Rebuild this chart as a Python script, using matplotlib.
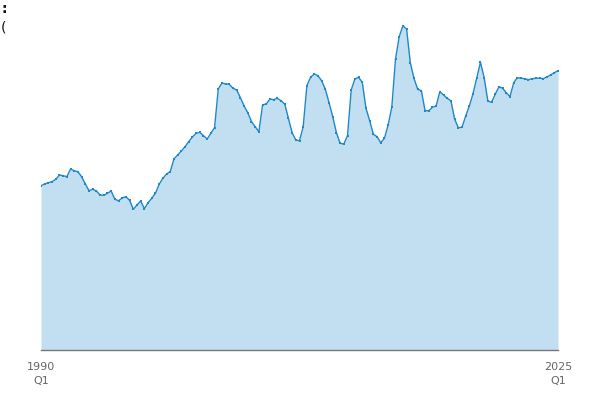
import numpy as np
import matplotlib
matplotlib.use('Agg')
from matplotlib import pyplot as plt

# quarterly series, 1990 Q1 .. 2025 Q1
values = [
    164.3, 166.0, 167.3, 168.3, 170.7, 175.0, 174.3, 173.3, 181.0, 179.3,
    178.3, 173.3, 166.0, 159.3, 160.7, 159.0, 155.0, 154.7, 156.7, 159.0,
    150.7, 149.3, 152.0, 153.3, 149.7, 140.7, 145.0, 149.0, 141.3, 147.3,
    151.7, 156.7, 165.7, 171.7, 176.0, 178.3, 191.0, 195.0, 199.0, 203.3,
    208.3, 213.0, 216.7, 217.7, 214.3, 211.0, 216.7, 222.3, 261.0, 267.0,
    266.0, 265.7, 261.7, 260.0, 252.3, 244.0, 237.3, 228.3, 223.3, 218.3,
    245.0, 246.0, 251.0, 250.3, 251.7, 249.3, 246.0, 231.7, 217.3, 210.0,
    209.3, 223.3, 264.3, 272.7, 276.0, 274.3, 269.3, 260.7, 247.3, 233.3,
    217.3, 206.7, 206.0, 214.3, 260.0, 271.0, 272.7, 267.7, 241.7, 229.3,
    215.7, 213.3, 207.3, 211.7, 225.0, 243.0, 291.0, 313.3, 324.3, 321.0,
    287.3, 271.7, 260.7, 259.3, 239.3, 239.3, 242.7, 244.0, 258.3, 255.0,
    251.7, 249.3, 231.0, 222.3, 222.7, 234.0, 244.0, 256.5, 272.3, 287.7,
    272.5, 249.0, 247.7, 255.7, 263.3, 261.7, 257.3, 253.3, 267.3, 272.3,
    271.7, 271.3, 270.3, 271.3, 271.7, 272.0, 271.3, 273.0, 275.0, 277.3,
    279.3,
]
tick_labels = ['1990\nQ1', '2025\nQ1']

x = np.arange(len(values))
line_color = '#1f88c8'
fill_color = '#c1dff1'
text_color = '#666666'

fig = plt.figure(figsize=(6, 4), dpi=100)
ax = fig.add_axes([41 / 600, 50 / 400, 517 / 600, 330 / 400])

ax.fill_between(x, values, 0, color=fill_color, linewidth=0)
ax.plot(x, values, color=line_color, linewidth=1.0,
        marker='s', markersize=1.8, markeredgewidth=0)

ax.set_xlim(0, len(values) - 1)
ax.set_ylim(0, 330)

for side in ['top', 'right', 'left']:
    ax.spines[side].set_visible(False)
ax.spines['bottom'].set_color('#777777')
ax.spines['bottom'].set_linewidth(1.0)

ax.set_yticks([])
ax.set_xticks([0, len(values) - 1])
ax.set_xticklabels(tick_labels, color=text_color, fontsize=8, linespacing=1.4)
ax.tick_params(axis='x', length=0, pad=9)

# cut-off title fragments at the top-left
fig.text(0.002, 0.995, ':', fontsize=10, color='#111111', va='top', ha='left',
         fontweight='bold')
fig.text(0.002, 0.948, '(', fontsize=10, color='#111111', va='top', ha='left')

fig.savefig('out.png', dpi=100)
